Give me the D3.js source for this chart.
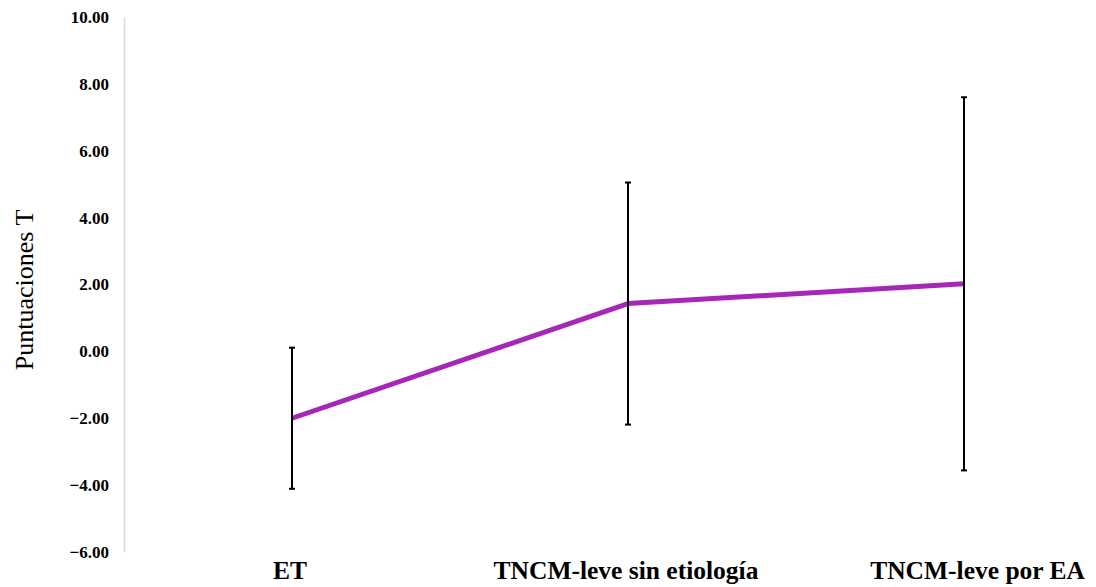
<!DOCTYPE html>
<html>
<head>
<meta charset="utf-8">
<script src="https://cdn.jsdelivr.net/npm/d3@7"></script>
<style>
  html, body { margin: 0; padding: 0; background: #fff; }
  svg { display: block; }
</style>
</head>
<body>
<svg id="chart" width="1096" height="587"></svg>
<script>
const categories = ["ET", "TNCM-leve sin etiología", "TNCM-leve por EA"];
const means = [-2.00, 1.43, 2.02];
const errors = [2.11, 3.62, 5.58];
const yTicks = [-6, -4, -2, 0, 2, 4, 6, 8, 10];
const yTitle = "Puntuaciones T";

(function () {
const svg = d3.select("#chart");
const W = 1096, mLeft = 124, mTop = 17, mBottom = 552, bandW = 336;
const serif = "'Liberation Serif', 'Times New Roman', Times, serif";

const x = d3.scaleBand().domain(categories).range([mLeft, mLeft + bandW * categories.length]).padding(0);
const y = d3.scaleLinear().domain([-6, 10]).range([mBottom, mTop]);

// y axis
const yAxis = d3.axisLeft(y).tickValues(yTicks).tickSize(0).tickPadding(15).tickFormat(d3.format(".2f"));
const gy = svg.append("g").attr("transform", `translate(${mLeft},0)`).call(yAxis);
gy.attr("font-family", null).attr("font-size", null);
gy.select(".domain").attr("stroke", "#d9d9d9").attr("stroke-width", 1.5);
gy.selectAll("text")
  .style("font-family", serif)
  .style("font-weight", "bold")
  .style("font-size", "17px")
  .attr("fill", "#000");

// x labels (last one right-aligned to the chart edge, as in the original)
const n = categories.length;
svg.append("g").selectAll("text").data(categories).join("text")
  .attr("x", (d, i) => i === n - 1 ? W - 11 : x(d) + x.bandwidth() / 2 - 2)
  .attr("text-anchor", (d, i) => i === n - 1 ? "end" : "middle")
  .attr("y", 579)
  .style("font-family", serif)
  .style("font-weight", "bold")
  .style("font-size", "25.5px")
  .attr("fill", "#000")
  .text(d => d);

// y title
svg.append("text")
  .attr("transform", `translate(33,290) rotate(-90)`)
  .attr("text-anchor", "middle")
  .style("font-family", serif)
  .style("font-size", "26px")
  .attr("fill", "#000")
  .text(yTitle);

const data = categories.map((c, i) => ({ c, m: means[i], e: errors[i] }));
const cx = d => x(d.c) + x.bandwidth() / 2;

// line
svg.append("path")
  .datum(data)
  .attr("fill", "none")
  .attr("stroke", "#A626B8")
  .attr("stroke-width", 5)
  .attr("stroke-linejoin", "round")
  .attr("d", d3.line().x(cx).y(d => y(d.m)));

// error bars
const eb = svg.append("g").attr("stroke", "#000").attr("stroke-width", 2);
eb.selectAll("line.v").data(data).join("line").attr("class", "v")
  .attr("x1", cx).attr("x2", cx)
  .attr("y1", d => y(d.m + d.e)).attr("y2", d => y(d.m - d.e));
eb.selectAll("line.t").data(data).join("line").attr("class", "t")
  .attr("x1", d => cx(d) - 3).attr("x2", d => cx(d) + 3)
  .attr("y1", d => y(d.m + d.e)).attr("y2", d => y(d.m + d.e));
eb.selectAll("line.b").data(data).join("line").attr("class", "b")
  .attr("x1", d => cx(d) - 3).attr("x2", d => cx(d) + 3)
  .attr("y1", d => y(d.m - d.e)).attr("y2", d => y(d.m - d.e));
})();
</script>
</body>
</html>
